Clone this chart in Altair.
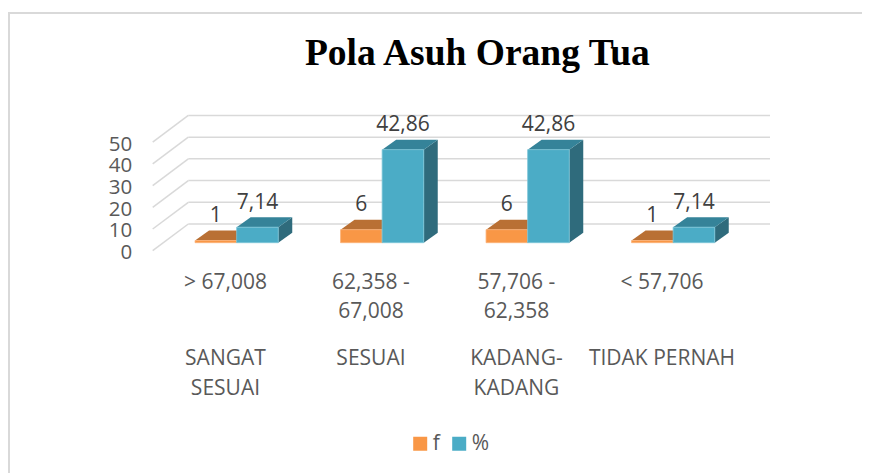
import altair as alt
import pandas as pd

# ---- chart values ----
ranges_line1 = ["> 67,008", "62,358 -", "57,706 -", "< 57,706"]
ranges_line2 = ["", "67,008", "62,358", ""]
names_line1 = ["SANGAT", "SESUAI", "KADANG-", "TIDAK PERNAH"]
names_line2 = ["SESUAI", "", "KADANG", ""]
series = ["f", "%"]
f_values = [1, 6, 6, 1]
pct_values = [7.14, 42.86, 42.86, 7.14]
f_labels = ["1", "6", "6", "1"]
pct_labels = ["7,14", "42,86", "42,86", "7,14"]
y_ticks = [0, 10, 20, 30, 40, 50]

# ---- layout of the pseudo-3D box, in px ----
VIEW_W, VIEW_H = 617.3, 135.7
PX_CAT, PX_UNIT = 145.5, 2.171
XMAX, YMAX = VIEW_W / PX_CAT, VIEW_H / PX_UNIT
WALL_DX, WALL_DY = 35.6 / PX_CAT, 26.7 / PX_UNIT
FLOOR_DX, FLOOR_DY = 11.2 / PX_CAT, 8.0 / PX_UNIT
BAR_W = 41.6 / PX_CAT
BAR_DX, BAR_DY = 14.0 / PX_CAT, 10.0 / PX_UNIT

xs = alt.Scale(domain=[0, XMAX], range=[0, VIEW_W], nice=False, zero=False)
ys = alt.Scale(domain=[0, YMAX], range=[VIEW_H, 0], nice=False, zero=False)
X = lambda f: alt.X(f, type="quantitative", scale=xs, axis=None)
Y = lambda f: alt.Y(f, type="quantitative", scale=ys, axis=None)

COL = {
    "f": dict(front="#F99746", top="#B97034", side="#B97034", edge="#FBB27A"),
    "%": dict(front="#4BACC6", top="#358399", side="#2F6B7C", edge="#7CC5D8"),
}
GRID = "#D9D9D9"
TXT = "#595959"
TXT_D = "#404040"

# back wall gridlines and the slanted side wall lines
wall = pd.DataFrame({"x": WALL_DX, "x2": XMAX, "y": [v + WALL_DY for v in y_ticks]})
grid = alt.Chart(wall).mark_rule(color=GRID, strokeWidth=1.5).encode(
    x=X("x"), x2="x2", y=Y("y"))
diag_rows = []
for v in y_ticks:
    diag_rows.append({"id": v, "x": 0, "y": v})
    diag_rows.append({"id": v, "x": WALL_DX, "y": v + WALL_DY})
diag = alt.Chart(pd.DataFrame(diag_rows)).mark_line(color=GRID, strokeWidth=1.5).encode(
    x=X("x"), y=Y("y"), detail="id:N")

# bar faces
front_rows, side_rows, top_rows = [], [], []
for k, (fv, pv) in enumerate(zip(f_values, pct_values)):
    centre = k + 0.5 + FLOOR_DX
    for s, v, x0 in ((series[0], fv, centre - BAR_W), (series[1], pv, centre)):
        x1 = x0 + BAR_W
        bottom, top = FLOOR_DY, FLOOR_DY + v
        front_rows.append(dict(s=s, x=x0, x2=x1, y=bottom, y2=top))
        i = f"{s}{k}"
        side_rows += [dict(s=s, id=i, x=x1, y=bottom, y2=top),
                      dict(s=s, id=i, x=x1 + BAR_DX, y=bottom + BAR_DY, y2=top + BAR_DY)]
        top_rows += [dict(s=s, id=i, x=x0, x2=x1, y=top),
                     dict(s=s, id=i, x=x0 + BAR_DX, x2=x1 + BAR_DX, y=top + BAR_DY)]
front_df, side_df, top_df = map(pd.DataFrame, (front_rows, side_rows, top_rows))

layers = [grid, diag]
for s in series:
    side = alt.Chart(side_df[side_df.s == s]).mark_area(
        color=COL[s]["side"], opacity=1, line=False).encode(
        x=X("x"), y=Y("y"), y2="y2", detail="id:N")
    top = alt.Chart(top_df[top_df.s == s]).mark_area(
        color=COL[s]["top"], opacity=1, orient="horizontal").encode(
        y=Y("y"), x=X("x"), x2="x2", detail="id:N")
    front = alt.Chart(front_df[front_df.s == s]).mark_rect(
        stroke=COL[s]["edge"], strokeWidth=0.8).encode(
        x=X("x"), x2="x2", y=Y("y"), y2="y2",
        color=alt.Color("s:N", title=None,
                        scale=alt.Scale(domain=series,
                                        range=[COL[n]["front"] for n in series]),
                        legend=alt.Legend(orient="none", legendX=257, legendY=318,
                                          direction="horizontal", symbolType="square",
                                          symbolSize=196, symbolStrokeWidth=0,
                                          labelFontSize=21, labelFont="Open Sans",
                                          labelColor=TXT, columnPadding=8,
                                          labelOffset=2, title=None)))
    layers += [side, top, front]

# data labels
label_rows = []
for k in range(len(f_values)):
    label_rows.append(dict(x=k + 0.5 + FLOOR_DX - BAR_W / 2, y=FLOOR_DY + f_values[k], t=f_labels[k]))
    label_rows.append(dict(x=k + 0.5 + FLOOR_DX + BAR_W / 2, y=FLOOR_DY + pct_values[k], t=pct_labels[k]))
data_text = alt.Chart(pd.DataFrame(label_rows)).mark_text(
    font="Open Sans", fontSize=21, color=TXT_D, dy=-24.5, baseline="middle", align="center"
).encode(x=X("x"), y=Y("y"), text="t:N")
layers.append(data_text)

# two-level category labels
for lines, py in ((ranges_line1, 168), (ranges_line2, 197), (names_line1, 244), (names_line2, 274)):
    d = pd.DataFrame({"x": [k + 0.5 for k in range(len(lines))], "t": lines})
    d = d[d.t != ""]
    layers.append(alt.Chart(d).mark_text(
        font="Open Sans", fontSize=21, color=TXT, baseline="middle", align="center"
    ).encode(x=X("x"), y=alt.value(py), text="t:N"))

# y axis on the front plane
axis_layer = alt.Chart(pd.DataFrame({"v": y_ticks})).mark_point(opacity=0).encode(
    y=alt.Y("v:Q", scale=ys, axis=alt.Axis(
        values=y_ticks, title=None, domain=False, ticks=False, grid=False, labelOffset=2,
        labelFontSize=20.5, labelFont="Open Sans", labelColor=TXT, labelPadding=21)))
layers.append(axis_layer)

# outer frame
frame_top = alt.Chart(pd.DataFrame({"a": [0]})).mark_rule(color=GRID, strokeWidth=2).encode(
    x=alt.value(-144.7), x2=alt.value(709.3), y=alt.value(-102))
frame_left = alt.Chart(pd.DataFrame({"a": [0]})).mark_rule(color=GRID, strokeWidth=2).encode(
    x=alt.value(-143.7), y=alt.value(-102), y2=alt.value(358))
layers += [frame_top, frame_left]

chart = alt.layer(*layers).resolve_axis(y="independent").properties(
    width=VIEW_W, height=VIEW_H,
    title=alt.TitleParams("Pola Asuh Orang Tua", font="Liberation Serif", fontSize=37.5,
                          fontWeight="bold", color="#000000", anchor="middle",
                          frame="group", dx=16, offset=-60),
    autosize=alt.AutoSizeParams(type="none"),
    padding={"left": 144.7, "top": 107, "right": 92, "bottom": 222.3},
    background="white",
).configure_view(stroke=None)

chart.save("out.html", embed_options={"renderer": "svg", "actions": False})
